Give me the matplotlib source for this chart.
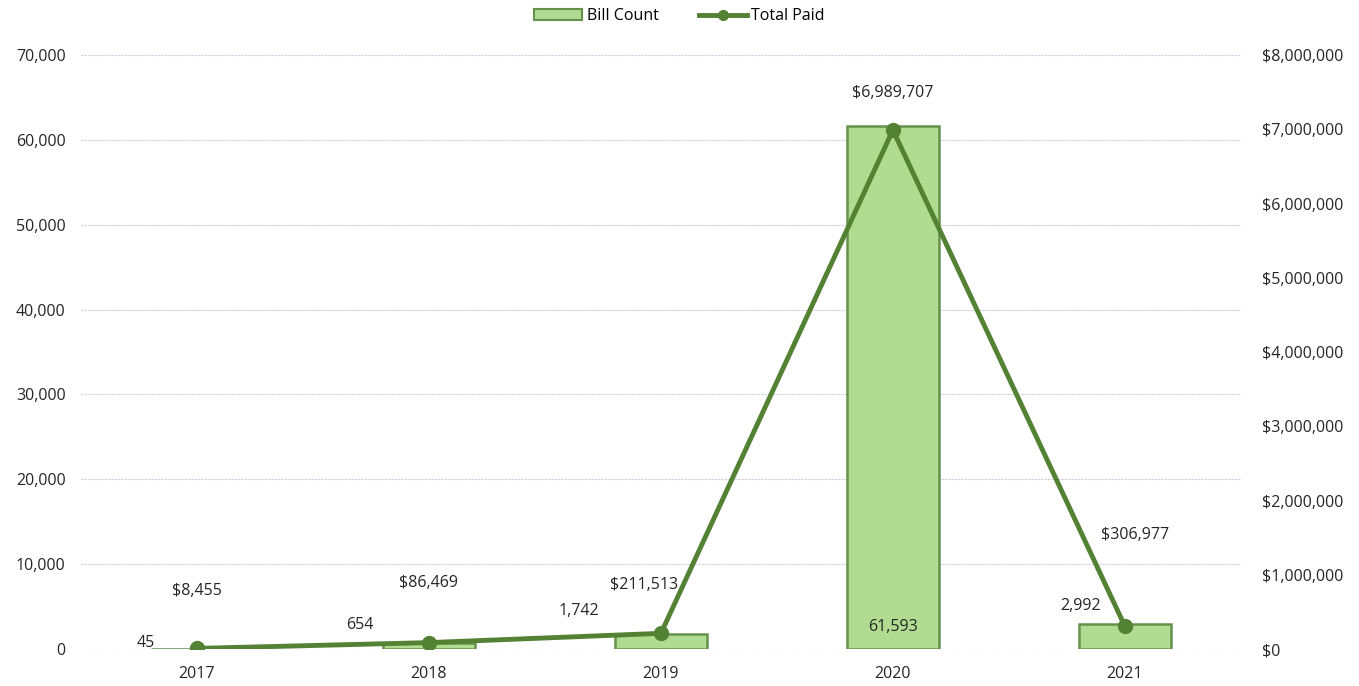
import matplotlib.pyplot as plt
from matplotlib.ticker import FuncFormatter
from matplotlib.lines import Line2D
from matplotlib.patches import Patch

years = ["2017", "2018", "2019", "2020", "2021"]
bill_count = [45, 654, 1742, 61593, 2992]
total_paid = [8455, 86469, 211513, 6989707, 306977]

# label offsets in points (dx, dy), label centred
count_offsets = [(-37, 4), (-50, 13), (-59, 17), (0, 16), (-32, 13)]
paid_offsets = [(0, 41), (0, 43), (-12, 35), (0, 27), (7, 66)]

plt.rcParams["font.family"] = ["Open Sans", "DejaVu Sans"]

fs = 11.5
bar_color = "#b1db90"
bar_edge = "#66914c"
line_color = "#548235"
text_color = "#262626"

fig = plt.figure(figsize=(13.59, 6.86), dpi=100)
ax = fig.add_axes([0.0596, 0.0539, 0.8535, 0.8659])
ax2 = ax.twinx()

x = list(range(len(years)))
ax.bar(x, bill_count, width=0.4, color=bar_color, edgecolor=bar_edge,
       linewidth=1.8, zorder=2)
ax2.plot(x, total_paid, color=line_color, linewidth=3.5, marker="o",
         markersize=10, zorder=3)

ax.set_xlim(-0.5, len(years) - 0.5)
ax.set_ylim(0, 70000)
ax2.set_ylim(0, 8000000)
ax.set_yticks(range(0, 70001, 10000))
ax2.set_yticks(range(0, 8000001, 1000000))
ax.yaxis.set_major_formatter(FuncFormatter(lambda v, p: f"{v:,.0f}"))
ax2.yaxis.set_major_formatter(FuncFormatter(lambda v, p: f"${v:,.0f}"))
ax.set_xticks(x)
ax.set_xticklabels(years)

ax.grid(axis="y", color="#cfcfdb", linestyle=(0, (2, 1)), linewidth=0.8, zorder=0)
ax.set_axisbelow(True)
for a in (ax, ax2):
    for s in a.spines.values():
        s.set_visible(False)
    a.tick_params(length=0, colors=text_color, labelsize=fs)
ax.tick_params(axis="y", pad=11)
ax.tick_params(axis="x", pad=12)
ax2.tick_params(axis="y", pad=15)

ax.set_zorder(ax2.get_zorder() - 1)
ax2.patch.set_visible(False)

for i, v in enumerate(bill_count):
    dx, dy = count_offsets[i]
    ax.annotate(f"{v:,}", (i, v if i != 3 else 0), xytext=(dx, dy),
                textcoords="offset points", ha="center", va="center",
                color=text_color, fontsize=fs)
for i, v in enumerate(total_paid):
    dx, dy = paid_offsets[i]
    ax2.annotate(f"${v:,}", (i, v), xytext=(dx, dy),
                 textcoords="offset points", ha="center", va="center",
                 color=text_color, fontsize=fs)

handles = [Patch(facecolor=bar_color, edgecolor=bar_edge, linewidth=1.5),
           Line2D([0], [0], color=line_color, linewidth=3.5, marker="o", markersize=7)]
fig.legend(handles, ["Bill Count", "Total Paid"], loc="center",
           bbox_to_anchor=(0.5, 0.976), ncol=2, frameon=False,
           fontsize=fs, handlelength=3, columnspacing=2.5, handletextpad=0.3)

fig.savefig("out.png", dpi=100)
